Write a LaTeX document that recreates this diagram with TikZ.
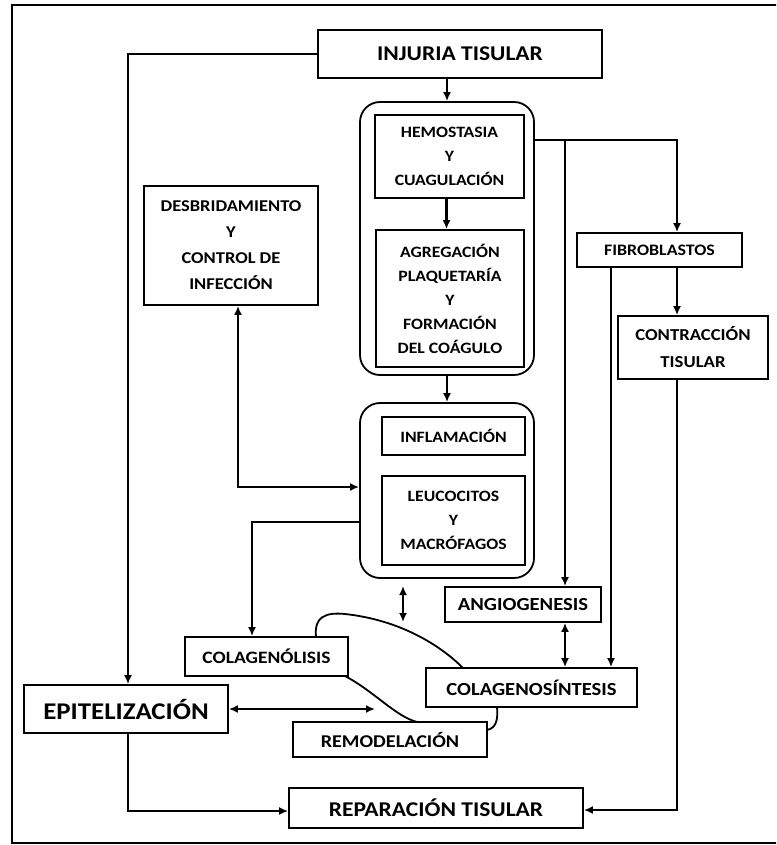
\documentclass[tikz,border=0pt]{standalone}
\usepackage{fontspec}
\usepackage{graphicx}
\newfontfamily\lab{Carlito}
\usetikzlibrary{arrows.meta,calc}
\tikzset{
  box/.style={draw, line width=1.8pt, inner sep=0pt, align=center, font=\lab\bfseries},
  rbox/.style={draw, line width=1.8pt, rounded corners=20pt, inner sep=0pt},
  arr/.style={line width=2.1pt, -{Latex[length=9pt,width=8pt]}},
  darr/.style={line width=2.1pt, {Latex[length=9pt,width=8pt]}-{Latex[length=9pt,width=8pt]}},
  crv/.style={line width=1.8pt}
}
\newcommand{\fs}[2]{\fontsize{#1}{#2}\selectfont}
\newcommand{\sx}[1]{\scalebox{1.12}[1]{#1}}
\begin{document}
\begin{tikzpicture}[x=1pt,y=-1pt]
\useasboundingbox (0,0) rectangle (776,845);
\begin{scope}
\clip (0,0) rectangle (776,845);
\draw[line width=2.6pt] (12,5) rectangle (790,843);
\end{scope}
% nodes
\node[box, minimum width=284, minimum height=48, font=\lab\bfseries\fs{21}{22}] (inj) at (460,54) {\sx{INJURIA TISULAR}};
\node[rbox, minimum width=174, minimum height=273] (rb1) at (447,238.5) {};
\node[box, minimum width=149, minimum height=83, font=\lab\bfseries\fs{15.8}{24}] (hemo) at (449.5,156.5) {\sx{HEMOSTASIA}\\\sx{Y}\\\sx{CUAGULACIÓN}};
\node[box, minimum width=148, minimum height=137, font=\lab\bfseries\fs{15.8}{24}] (agre) at (450,298.5) {\sx{AGREGACIÓN}\\\sx{PLAQUETARÍA}\\\sx{Y}\\\sx{FORMACIÓN}\\\sx{DEL COÁGULO}};
\node[rbox, minimum width=174, minimum height=175] (rb2) at (447,490.5) {};
\node[box, minimum width=143, minimum height=38, font=\lab\bfseries\fs{15.8}{24}] (infl) at (453.5,436) {\sx{INFLAMACIÓN}};
\node[box, minimum width=143, minimum height=89, font=\lab\bfseries\fs{15.8}{24}] (leuc) at (453.5,520.5) {\sx{LEUCOCITOS}\\\sx{Y}\\\sx{MACRÓFAGOS}};
\node[box, minimum width=174, minimum height=119, font=\lab\bfseries\fs{16.5}{26}] (desb) at (231,245.5) {\sx{DESBRIDAMIENTO}\\\sx{Y}\\\sx{CONTROL DE}\\\sx{INFECCIÓN}};
\node[box, minimum width=165, minimum height=34, font=\lab\bfseries\fs{16}{24}] (fibro) at (659.5,250) {\sx{FIBROBLASTOS}};
\node[box, minimum width=150, minimum height=63, font=\lab\bfseries\fs{16.7}{27}] (contr) at (693,347.5) {\sx{CONTRACCIÓN}\\\sx{TISULAR}};
\node[box, minimum width=156, minimum height=35, font=\lab\bfseries\fs{18.4}{20}] (angio) at (523,604.5) {\sx{ANGIOGENESIS}};
\node[box, minimum width=163, minimum height=39, font=\lab\bfseries\fs{17.4}{20}] (colis) at (266.5,656.5) {\sx{COLAGENÓLISIS}};
\node[box, minimum width=211, minimum height=39, font=\lab\bfseries\fs{18.4}{20}] (colsin) at (531.5,687.5) {\sx{COLAGENOSÍNTESIS}};
\node[box, minimum width=204, minimum height=48, font=\lab\bfseries\fs{24}{26}] (epi) at (126,709) {\sx{EPITELIZACIÓN}};
\node[box, minimum width=194, minimum height=35, font=\lab\bfseries\fs{18}{20}] (remo) at (390,739.5) {\sx{REMODELACIÓN}};
\node[box, minimum width=294, minimum height=40, font=\lab\bfseries\fs{21}{22}] (repa) at (436,808) {\sx{REPARACIÓN TISULAR}};
% coordinates
\coordinate (br1) at (565,140);
\coordinate (remoarr) at (375,709);
\coordinate (da1) at (403,586);
\coordinate (da2) at (403,622);
% connectors
\draw[arr] (inj.west) -| ([xshift=2]epi.north);
\draw[arr] (rb1.north |- inj.south) -- (rb1.north);
\draw[arr] ([xshift=-3]hemo.south) -- ([xshift=-3]hemo.south |- agre.north);
\draw[arr] (rb1.south) -- (rb2.north);
\draw[darr] ([xshift=7]desb.south) |- ([yshift=3.5]rb2.west);
\draw[arr] ([yshift=-31.5]rb2.west) -| ([xshift=-14.5]colis.north);
\draw[darr] (epi.east) -- (remoarr);
\draw[arr] ([xshift=2]epi.south) |- ([yshift=-3]repa.west);
\draw[arr] ([yshift=98.5]rb1.east) -| ([xshift=17.5]fibro.north);
\draw[arr] (br1) -- (br1 |- angio.north);
\draw[arr] ([xshift=-48.5]fibro.south) -- ([xshift=-48.5]fibro.south |- colsin.north);
\draw[arr] ([xshift=17.5]fibro.south) -- ([xshift=17.5]fibro.south |- contr.north);
\draw[arr] ([xshift=-16]contr.south) |- ([yshift=-2]repa.east);
\draw[darr] (br1 |- angio.south) -- (br1 |- colsin.north);
\draw[darr] (da1) -- (da2);
% remodelling loop
\draw[crv] (316,637) .. controls (314,617) and (325,612) .. (345,614) .. controls (400,620) and (440,645) .. (463,668);
\draw[crv] (345,676) .. controls (375,692) and (395,716) .. (417,722);
\draw[crv] (487,730) .. controls (497,728) and (498,718) .. (497,707);
\end{tikzpicture}
\end{document}
